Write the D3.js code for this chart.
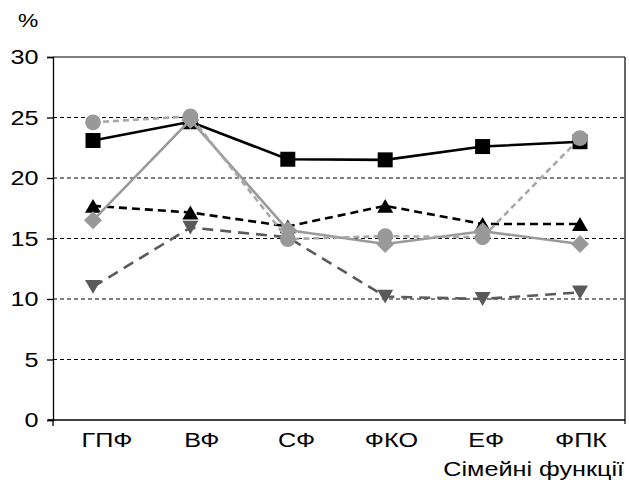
<!DOCTYPE html>
<html>
<head>
<meta charset="utf-8">
<script src="https://cdn.jsdelivr.net/npm/d3@7"></script>
<style>
  body{margin:0;background:#fff;}
  svg{display:block;font-family:"Liberation Sans",Arial,sans-serif;}
</style>
</head>
<body>
<div id="chart"></div>
<script>
const categories=['ГПФ','ВФ','СФ','ФКО','ЕФ','ФПК'];
const yTicks=[0,5,10,15,20,25,30];
const squares=[23.1,24.65,21.55,21.5,22.6,23.0];
const trianglesUp=[17.7,17.15,16.0,17.7,16.2,16.2];
const trianglesDown=[11.0,15.9,15.1,10.2,10.0,10.55];
const diamonds=[16.5,24.8,15.7,14.55,15.6,14.55];
const circles=[24.6,25.1,14.95,15.2,15.1,23.3];

const W=629,H=486,m={t:57,r:4,b:66,l:53};
const FONT='"Liberation Sans",Arial,sans-serif';
const SX=1.2; // the original text is wide, stretch horizontally
const svg=d3.select('#chart').append('svg').attr('width',W).attr('height',H);
const x=d3.scalePoint().domain(categories).range([93,580]);
const xLab=d3.scalePoint().domain(categories).range([107,581]);
const y=d3.scaleLinear().domain([0,30]).range([H-m.b,m.t]);
const right=W-m.r;

// grid
svg.append('g').selectAll('line').data(yTicks.filter(d=>d>0&&d<30)).join('line')
  .attr('x1',m.l).attr('x2',right).attr('y1',d=>y(d)).attr('y2',d=>y(d))
  .attr('stroke','#000').attr('stroke-width',1).attr('stroke-dasharray','4,3');
// frame: top and right
svg.append('line').attr('x1',m.l).attr('x2',right).attr('y1',y(30)).attr('y2',y(30)).attr('stroke','#000').attr('stroke-width',1.2);
svg.append('line').attr('x1',right).attr('x2',right).attr('y1',y(30)).attr('y2',y(0)+4).attr('stroke','#333').attr('stroke-width',1.5);

// y axis
const ya=svg.append('g').attr('transform',`translate(${m.l},0)`)
  .call(d3.axisLeft(y).tickValues(yTicks).tickSize(6).tickPadding(6));
ya.select('.domain').attr('stroke-width',1.3);
ya.selectAll('.tick line').attr('stroke-width',1.3);
ya.selectAll('text').attr('font-size',21).attr('fill','#000').style('font-family',FONT)
  .attr('transform',`scale(${SX},1)`);
// x axis line + left tick
svg.append('line').attr('x1',m.l-5).attr('x2',right).attr('y1',y(0)).attr('y2',y(0)).attr('stroke','#000').attr('stroke-width',1.3);
svg.append('line').attr('x1',m.l).attr('x2',m.l).attr('y1',y(0)).attr('y2',y(0)+6).attr('stroke','#000').attr('stroke-width',1.3);
svg.append('g').selectAll('text').data(categories).join('text')
  .attr('transform',d=>`translate(${xLab(d)},447) scale(${SX},1)`)
  .attr('text-anchor','middle').attr('font-size',21).attr('fill','#000').text(d=>d);

svg.append('text').attr('transform',`translate(18,27) scale(${SX},1)`).attr('font-size',19).text('%');
svg.append('text').attr('transform',`translate(624,476) scale(${SX},1)`).attr('text-anchor','end').attr('font-size',21).text('Сімейні функції');

// custom triangle symbols, bbox-centred
const triUp={draw(ctx,size){const s=Math.sqrt(size);ctx.moveTo(0,-s*0.45);ctx.lineTo(s*0.52,s*0.45);ctx.lineTo(-s*0.52,s*0.45);ctx.closePath();}};
const triDown={draw(ctx,size){const s=Math.sqrt(size);ctx.moveTo(0,s*0.45);ctx.lineTo(s*0.52,-s*0.45);ctx.lineTo(-s*0.52,-s*0.45);ctx.closePath();}};

const series=[
  {vals:squares,line:'#000',dash:null,width:2.6,marker:'#000',sym:d3.symbolSquare,size:225,rot:0},
  {vals:trianglesUp,line:'#000',dash:'8,5',width:2.6,marker:'#000',sym:triUp,size:237,rot:0},
  {vals:trianglesDown,line:'#5a5a5a',dash:'11,7',width:2.6,marker:'#5a5a5a',sym:triDown,size:237,rot:0},
  {vals:diamonds,line:'#9a9a9a',dash:null,width:2.6,marker:'#999',sym:d3.symbolSquare,size:162,rot:45},
  {vals:circles,line:'#a8a8a8',dash:'6,4',width:2.6,marker:'#999',sym:d3.symbolCircle,size:195,rot:0}
];

series.forEach(s=>{
  const data=categories.map((c,i)=>({c,v:s.vals[i]}));
  svg.append('path').datum(data).attr('fill','none').attr('stroke',s.line).attr('stroke-width',s.width)
    .attr('stroke-dasharray',s.dash||null)
    .attr('d',d3.line().x(d=>x(d.c)).y(d=>y(d.v)));
  svg.append('g').selectAll('path').data(data).join('path')
    .attr('transform',d=>`translate(${x(d.c)},${y(d.v)}) rotate(${s.rot})`)
    .attr('d',d3.symbol().type(s.sym).size(s.size)).attr('fill',s.marker);
});
</script>
</body>
</html>
